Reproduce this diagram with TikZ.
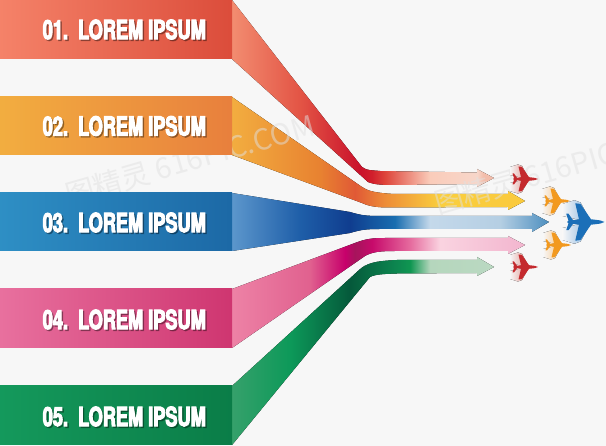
\documentclass[tikz,border=0pt]{standalone}
\usepackage{fontspec}
\newfontfamily\lbl{TeX Gyre Heros}[BoldFeatures={FakeStretch=.72,FakeBold=4}]
\newfontfamily\cjkwm{Noto Sans CJK SC}
\setmainfont{TeX Gyre Heros}
\definecolor{bgc}{HTML}{F7F7F7}
\definecolor{ra}{rgb}{.96,.51,.41}\definecolor{rb}{rgb}{.86,.30,.23}
\definecolor{oa}{rgb}{.95,.68,.25}\definecolor{ob}{rgb}{.91,.50,.24}
\definecolor{ba}{rgb}{.18,.56,.77}\definecolor{bb}{rgb}{.11,.41,.65}
\definecolor{pa}{rgb}{.91,.44,.62}\definecolor{pb}{rgb}{.81,.21,.44}
\definecolor{ga}{rgb}{.08,.60,.36}\definecolor{gb}{rgb}{.04,.49,.28}
\definecolor{pred}{HTML}{C42A2E}\definecolor{pred2}{HTML}{E08F88}
\definecolor{porg}{HTML}{F2991F}\definecolor{porg2}{HTML}{F6C385}
\definecolor{pblu}{HTML}{1B6FB8}\definecolor{pblu2}{HTML}{86B4E0}
\pgfdeclarehorizontalshading{ribA}{100bp}{
  rgb(0bp)=(.95,.55,.44); rgb(25bp)=(.95,.55,.44); rgb(38bp)=(.89,.33,.27); rgb(49.4bp)=(.79,.07,.17); rgb(51.7bp)=(.82,.12,.17); rgb(54.2bp)=(.87,.27,.23); rgb(62.8bp)=(.98,.80,.73); rgb(71.8bp)=(.97,.84,.79); rgb(73bp)=(.95,.74,.67); rgb(100bp)=(.95,.74,.67)}
\pgfdeclarehorizontalshading{ribB}{100bp}{
  rgb(0bp)=(.95,.68,.25); rgb(25bp)=(.95,.68,.25); rgb(40bp)=(.91,.51,.19); rgb(46bp)=(.88,.35,.21); rgb(51.1bp)=(.93,.55,.22); rgb(60.5bp)=(.98,.81,.24); rgb(75bp)=(.98,.79,.24); rgb(100bp)=(.98,.79,.24)}
\pgfdeclarehorizontalshading{ribC}{100bp}{
  rgb(0bp)=(.36,.59,.80); rgb(25bp)=(.36,.59,.80); rgb(35.7bp)=(.12,.37,.66); rgb(43.6bp)=(.06,.24,.56); rgb(50.7bp)=(.10,.43,.69); rgb(56.2bp)=(.77,.85,.92); rgb(67.3bp)=(.71,.81,.89); rgb(75bp)=(.30,.56,.75); rgb(100bp)=(.30,.56,.75)}
\pgfdeclarehorizontalshading{ribD}{100bp}{
  rgb(0bp)=(.93,.51,.65); rgb(25bp)=(.93,.51,.65); rgb(38.3bp)=(.88,.38,.56); rgb(44.3bp)=(.78,.0,.42); rgb(46bp)=(.65,.08,.36); rgb(48.9bp)=(.78,.04,.42); rgb(55.4bp)=(.90,.42,.62); rgb(60.5bp)=(.98,.83,.88); rgb(75bp)=(.95,.71,.81); rgb(100bp)=(.95,.71,.81)}
\pgfdeclarehorizontalshading{ribE}{100bp}{
  rgb(0bp)=(.21,.63,.42); rgb(25bp)=(.21,.63,.42); rgb(36.1bp)=(.05,.60,.35); rgb(47.5bp)=(.02,.35,.23); rgb(56.1bp)=(.05,.52,.31); rgb(59bp)=(.06,.59,.32); rgb(62.8bp)=(.71,.84,.74); rgb(75bp)=(.73,.85,.76); rgb(100bp)=(.73,.85,.76)}
\tikzset{
  lab/.style={anchor=east,inner sep=0pt,text=white},
  labshadow/.style={anchor=east,inner sep=0pt,text=black,opacity=.28},
  wmark/.style={rotate=16,text=black!12,text opacity=.5,inner sep=0pt,font=\cjkwm\fontsize{29}{29}\selectfont},
  trail/.style={left color=bgc,right color=#1},
}
\newcommand{\labeltext}[1]{\resizebox{163pt}{19.5pt}{\lbl\bfseries #1}}
% plane: x, y (centre), scale, dark colour, pale colour
\newcommand{\plane}[5]{
  \begin{scope}[shift={(#1,#2)},scale=#3]
    \fill[trail=#5] (-15,-12) -- (-7,-14.5) -- (-3,-13) -- (3,-2) -- (-4,-1.5) -- (-15,-4) -- cycle;
    \fill[trail=#5] (-15,12) -- (-7,14.5) -- (-3,13) -- (3,2) -- (-4,1.5) -- (-15,4) -- cycle;
    \fill[#4] (13,0) -- (10,-1.1) -- (6,-1.6) -- (4,-1.8) -- (-3,-12) -- (-6.5,-12.5) -- (-4,-1.8) -- (-8,-1.3) -- (-11,-5.5) -- (-12.5,-5.5) -- (-11,-0.8) -- (-12,0) -- (-11,0.8) -- (-12.5,5.5) -- (-11,5.5) -- (-8,1.3) -- (-4,1.8) -- (-6.5,12.5) -- (-3,12) -- (4,1.8) -- (6,1.6) -- (10,1.1) -- cycle;
  \end{scope}
}
\begin{document}
\begin{tikzpicture}[x=1pt,y=-1pt]
\useasboundingbox (0,0) rectangle (606,446);
\fill[bgc] (0,0) rectangle (606,446);
% bands
\fill[shading=ribA] (232,0) -- (362,167) .. controls (367,171) and (372,170) .. (380,171) -- (477,172.5) -- (477,169) -- (494,178) -- (477,187) -- (477,184) -- (397,185) .. controls (385,185) and (375,185) .. (368,182) -- (232,59) -- cycle;
\fill[shading=ribB] (232,97) -- (362,187) .. controls (368,191) and (375,193) .. (395,194) -- (508,194) -- (508,191) -- (525,201) -- (508,210) -- (508,207) -- (385,207.5) .. controls (375,207) and (368,206) .. (362,203) -- (232,155) -- cycle;
\fill[shading=ribC] (232,193) -- (350,212) .. controls (360,215) and (365,216) .. (380,216) -- (532,216) -- (532,213) -- (549,222) -- (532,232) -- (532,229) -- (380,229) .. controls (365,229) and (360,230) .. (350,233) -- (232,251) -- cycle;
\fill[shading=ribD] (232,289) -- (355,243) .. controls (365,239) and (372,238) .. (385,238) -- (508,238) -- (508,236) -- (525,245) -- (508,254) -- (508,251) -- (395,251) .. controls (380,251) and (372,252) .. (365,256) -- (232,348) -- cycle;
\fill[shading=ribE] (232,386) -- (358,271) .. controls (366,263) and (375,261) .. (397,260) -- (477,260) -- (477,257) -- (494,267) -- (477,276) -- (477,273) -- (397,273.5) .. controls (385,274) and (376,274) .. (370,277) -- (232,445) -- cycle;
% faint watermarks
\node[wmark] (wa) at (190,160) {图精灵 616PIC.COM};
\node[wmark] (wb) at (525,178) {图精灵 616PIC};
% label boxes
\fill[left color=ra,right color=rb] (0,0) rectangle (232,59);
\fill[left color=oa,right color=ob] (0,97) rectangle (232,155);
\fill[left color=ba,right color=bb] (0,193) rectangle (232,251);
\fill[left color=pa,right color=pb] (0,289) rectangle (232,348);
\fill[left color=ga,right color=gb] (0,386) rectangle (232,445);
% labels
\foreach \n/\y/\t in {1/29.5/{01.\ \ LOREM IPSUM},2/126/{02.\ \ LOREM IPSUM},3/222.5/{03.\ \ LOREM IPSUM},4/319.5/{04.\ \ LOREM IPSUM},5/416.5/{05.\ \ LOREM IPSUM}}{
  \node[labshadow] (s\n) at (207.5,\y+1.5) {\labeltext{\t}};
  \node[lab] (l\n) at (206,\y) {\labeltext{\t}};
}
% planes
\plane{525}{179}{1}{pred}{pred2}
\plane{557}{201}{1}{porg}{porg2}
\plane{558}{245}{1}{porg}{porg2}
\plane{525}{267}{1}{pred}{pred2}
\plane{585}{222}{1.5}{pblu}{pblu2}
\end{tikzpicture}
\end{document}
